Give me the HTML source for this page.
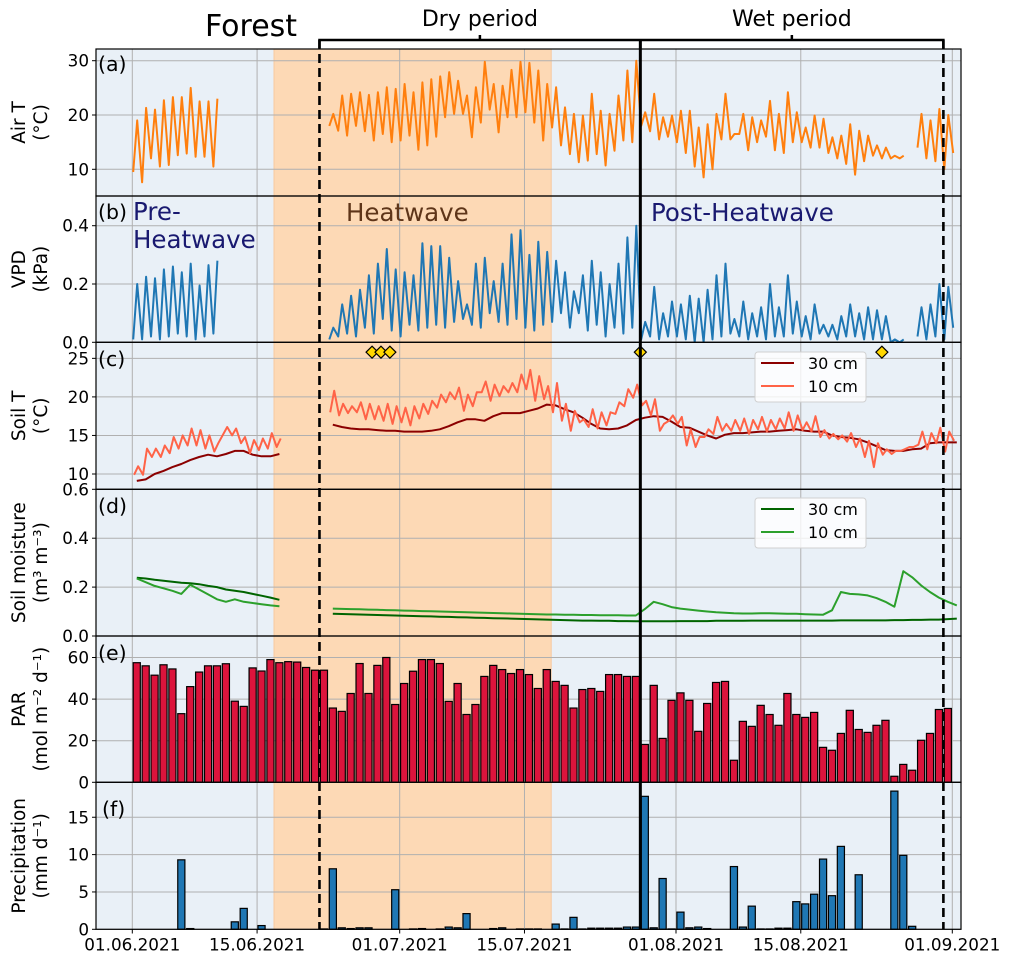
<!DOCTYPE html>
<html><head><meta charset="utf-8"><style>
html,body{margin:0;padding:0;background:#fff;}
svg{display:block;font-family:"DejaVu Sans","Liberation Sans",sans-serif;}
</style></head><body>
<svg id="chart" width="1010" height="962" viewBox="0 0 1010 962" xmlns="http://www.w3.org/2000/svg"></svg>
<script>
const N=null;
// ---- data (day index 0 = 01.06.2021) ----
const xTickDays=[0,14,30,44,61,75,92];
const xTickLabels=["01.06.2021","15.06.2021","01.07.2021","15.07.2021","01.08.2021","15.08.2021","01.09.2021"];
const heatStart=15.9, heatEnd=47, dryStart=21, wetStart=57, wetEnd=91;
const markerDays=[26.9,27.9,28.9,57,84.1];
const markerValue=25.8;
const airMax=[19,21.3,21,22.7,23.3,23.3,25,22.5,22.5,23,N,N,N,N,N,N,N,N,N,N,N,N,
20.2,23.6,23.9,24.2,23.7,24.2,25.1,24.8,25.7,24.2,26,26.6,27.1,27.9,26.3,23.6,25.1,29.8,25.7,25.4,28.3,29.8,29.6,28.2,25.7,25.1,21.4,20.2,19.9,23.9,20.8,20.2,23.6,28.2,30,
20.5,23.9,19.6,19.9,20.8,20.8,17.7,18.3,20.2,23.9,16.5,20.2,19.6,19,22.6,20.2,24.2,20.5,17.7,19.9,19.3,15.9,16.2,18.3,17.1,16.2,14.4,14,12.5,12.5,N,
20.2,19,21.1,20,N];
const airMin=[9.5,7.6,12,10.5,10.8,12.6,12.9,12.3,12.3,10.5,N,N,N,N,N,N,N,N,N,N,N,N,
18,17.1,16.2,18,17,15.3,16.5,15,15.3,16.2,13.6,14.4,16,19.6,20.2,20.2,15.9,18.6,21,16.8,19.6,19.6,20.5,18.6,15.3,17.7,14.4,12.8,11.3,11.6,12.8,10.7,13.4,15.3,15,
18,17,15.5,16,15,13,10.5,8.5,10,15.5,15.5,16.5,13.5,15,16,13.5,13,15,15,14,14,13,12,11,9,11.5,12.5,12,12,12,N,
14,12,11.5,10,13];
const vpdMax=[0.2,0.225,0.22,0.25,0.26,0.24,0.27,0.195,0.265,0.28,N,N,N,N,N,N,N,N,N,N,N,N,
0.05,0.13,0.16,0.18,0.23,0.27,0.32,0.25,0.24,0.23,0.34,0.33,0.33,0.29,0.21,0.13,0.27,0.29,0.21,0.27,0.37,0.385,0.30,0.345,0.31,0.28,0.24,0.175,0.23,0.28,0.24,0.20,0.27,0.36,0.40,
0.07,0.19,0.1,0.14,0.13,0.16,0.15,0.18,0.23,0.27,0.08,0.14,0.1,0.12,0.2,0.12,0.23,0.14,0.09,0.13,0.06,0.06,0.09,0.13,0.1,0.12,0.11,0.09,0.01,0.01,N,
0.12,0.13,0.2,0.19,N];
const vpdMin=[0.01,0.01,0.02,0.01,0.02,0.03,0.02,0.01,0.02,0.03,N,N,N,N,N,N,N,N,N,N,N,N,
0.01,0.02,0.03,0.02,0.05,0.03,0.08,0.04,0.02,0.06,0.04,0.05,0.06,0.05,0.07,0.08,0.06,0.05,0.1,0.07,0.06,0.08,0.05,0.04,0.06,0.07,0.1,0.05,0.1,0.04,0.06,0.02,0.05,0.03,0.05,
0.01,0.02,0.01,0.02,0.02,0.01,0,0,0.01,0.02,0.03,0.02,0.01,0.02,0.01,0.02,0.02,0.03,0.02,0.01,0.03,0.02,0.01,0.02,0.02,0.01,0.01,0.01,0,0,N,
0.02,0.01,0.02,0.01,0.05];
const soilT10Max=[11,13.3,13.3,13.7,14.8,15,15.9,15.7,15,14,16.1,15.9,14.8,14.4,14.6,15.3,14.6,N,N,N,N,N,
20.8,19.1,18.8,19.3,19.1,18.8,19.1,18.8,18.6,18.8,19.1,19.5,20.3,20.6,21.2,20.3,20.6,22,21.6,21.4,21.8,22.9,23.5,22.7,21.4,21.8,19.1,18.2,17.1,18.4,18,18,19.3,21,21.6,
19.5,19.7,16.5,17.6,17.4,15.8,14.8,15.8,17.4,16.5,17,17.2,17,17.4,17,17.2,18,17.6,16.7,17.5,15.7,15.2,15,15.3,14.6,14.3,14,13.2,13,13.2,13.5,15.5,15.3,16,15.5,N];
const soilT10Min=[9.9,9.9,12.2,12.2,12.7,13.3,13.7,13.7,13.3,12.9,N,15,14,12.7,13.1,13.3,13.5,N,N,N,N,N,
18,17.6,17.9,18,17.1,17.1,16.9,16.5,16.7,16.3,17.2,17.8,18.6,19.3,19.7,18.2,18.8,20.6,19.5,20.1,20.6,20.6,21,19.5,19.7,18,16.9,15.6,16.7,16.1,15.9,16.3,17.8,18.8,19.9,
18.9,17.6,15.6,16.9,16.5,13.7,13.5,14.8,15.2,15.6,15.6,15.6,15.2,15.8,15.5,15.8,15.9,15.6,15.7,15.5,14.8,14.6,14.5,14.2,13.5,12.2,10.9,12.5,12.6,13,13.5,13.8,13.2,14,12.9,14.3];
const soilT30=[9.1,9.3,10,10.4,10.9,11.3,11.8,12.2,12.5,12.3,12.6,13,13,12.5,12.3,12.3,12.6,N,N,N,N,N,
16.4,16.1,15.9,15.8,15.8,15.7,15.6,15.6,15.5,15.5,15.5,15.6,15.8,16.2,16.7,17.1,17.1,16.9,17.5,17.9,17.9,17.9,18.2,18.5,19,18.9,18.4,18,17.3,16.5,15.9,15.8,15.9,16.3,17,
17.3,17.5,17.4,16.8,16.1,16,15.5,15,14.6,15.1,15.3,15.3,15.4,15.5,15.5,15.6,15.7,15.8,15.6,15.5,15.5,15,14.8,14.7,14.5,14.1,13.6,13.1,13,13,13.2,13.3,14,14.1,14.1,14.1];
const sm10=[0.235,0.22,0.205,0.195,0.185,0.172,0.21,0.19,0.17,0.15,0.14,0.15,0.14,0.135,0.13,0.125,0.122,N,N,N,N,N,
0.112,0.111,0.110,0.109,0.108,0.107,0.106,0.105,0.104,0.103,0.102,0.101,0.100,0.099,0.098,0.097,0.096,0.095,0.094,0.093,0.092,0.091,0.090,0.089,0.088,0.088,0.087,0.087,0.086,0.086,0.085,0.085,0.085,0.084,0.084,
0.11,0.14,0.13,0.118,0.112,0.108,0.104,0.1,0.097,0.095,0.093,0.092,0.092,0.093,0.093,0.092,0.091,0.091,0.089,0.088,0.087,0.105,0.18,0.172,0.17,0.166,0.155,0.14,0.12,0.265,0.24,0.207,0.18,0.157,0.14,0.125];
const sm30=[0.238,0.235,0.23,0.226,0.222,0.218,0.216,0.212,0.205,0.2,0.19,0.185,0.18,0.172,0.165,0.157,0.148,N,N,N,N,N,
0.091,0.090,0.089,0.088,0.087,0.086,0.085,0.084,0.083,0.082,0.081,0.080,0.079,0.078,0.077,0.076,0.075,0.074,0.073,0.072,0.071,0.070,0.069,0.068,0.067,0.066,0.065,0.064,0.063,0.063,0.062,0.062,0.061,0.061,0.060,
0.060,0.060,0.060,0.060,0.061,0.061,0.061,0.061,0.062,0.062,0.062,0.062,0.063,0.063,0.063,0.063,0.063,0.063,0.063,0.063,0.063,0.063,0.064,0.064,0.064,0.064,0.064,0.064,0.065,0.065,0.066,0.066,0.067,0.067,0.069,0.071];
const parValues=[57.5,56,51.5,56.5,54.5,33,46,53,56,56,57,39,36.5,55,53.5,59,57.5,58,57.8,55.2,53.9,53.9,35.7,34.1,42.7,57.1,42.7,56.2,60,37.4,47.5,53.4,59,59,57.1,38.9,47.5,32.6,37.4,50.9,56.2,54.2,52.3,54.2,51.8,45.1,54.2,48.5,46.6,35.7,44.6,45.1,43.7,51.8,51.8,50.9,50.9,
18.2,46.6,21.1,39.4,43,39.4,24.5,37.9,48,48.5,10.6,29.3,26.9,37,32.6,27.4,42.7,32.6,31.2,33.6,16.8,15.4,23.5,34.6,25.4,24,27.4,29.8,2.9,8.6,5.8,20.2,23.5,35,35.5];
const precipValues=[0,0,0,0,0,9.3,0.1,0,0,0,0,1.0,2.8,0,0.5,0,0,0,0,0,0,0.05,8.1,0.2,0.1,0.2,0.2,0,0,5.3,0,0.05,0.1,0,0.05,0.3,0.2,2.1,0,0,0.1,0.2,0,0.05,0.05,0.05,0,0.7,0.05,1.6,0.05,0.15,0.15,0.15,0.15,0.3,0.3,
17.8,0.2,6.8,0.05,2.3,0.2,0.3,0.1,0,0,8.4,0.3,3.1,0.05,0.05,0.15,0.15,3.7,3.4,4.7,9.4,4.5,11.1,0,7.3,0,0,0,18.5,9.9,0.4,0,0,0,0];

// ---- scales ----
const X=d=>132.3+8.913*d;
const L=96,R=961;
const panels=[
 {id:'a',top:49,bot:196,y:v=>169.3-(v-10)*5.43,ticks:[10,20,30],lab:['10','20','30'],yl:['Air T','(°C)']},
 {id:'b',top:196,bot:342.3,y:v=>342.3-v*291.5,ticks:[0,0.2,0.4],lab:['0.0','0.2','0.4'],yl:['VPD','(kPa)']},
 {id:'c',top:342.3,bot:489.3,y:v=>474-(v-10)*7.71,ticks:[10,15,20,25],lab:['10','15','20','25'],yl:['Soil T','(°C)']},
 {id:'d',top:489.3,bot:636,y:v=>636-v*244.5,ticks:[0,0.2,0.4,0.6],lab:['0.0','0.2','0.4','0.6'],yl:['Soil moisture','(m³ m⁻³)']},
 {id:'e',top:636,bot:782.3,y:v=>782.3-v*2.08,ticks:[0,20,40,60],lab:['0','20','40','60'],yl:['PAR','(mol m⁻² d⁻¹)']},
 {id:'f',top:782.3,bot:929.3,y:v=>929.3-v*7.47,ticks:[0,5,10,15],lab:['0','5','10','15'],yl:['Precipitation','(mm d⁻¹)']}
];
const svg=document.getElementById('chart');
const NS='http://www.w3.org/2000/svg';
function mk(tag,attrs,parent){const e=document.createElementNS(NS,tag);for(const k in attrs)e.setAttribute(k,attrs[k]);(parent||svg).appendChild(e);return e;}
function txt(s,attrs,parent){const e=mk('text',attrs,parent);e.textContent=s;return e;}

function minMaxPts(mn,mx,tMin,tMax){const segs=[];let cur=[];for(let d=0;d<Math.max(mn.length,mx.length);d++){const a=mn[d],b=mx[d];if(a==null&&b==null){if(cur.length)segs.push(cur);cur=[];continue;}if(a!=null)cur.push([d+tMin,a]);if(b!=null)cur.push([d+tMax,b]);}if(cur.length)segs.push(cur);return segs;}
function dailyPts(arr,t){const segs=[];let cur=[];arr.forEach((v,d)=>{if(v==null){if(cur.length)segs.push(cur);cur=[];}else cur.push([d+t,v]);});if(cur.length)segs.push(cur);return segs;}
function drawSegs(segs,p,color,w,g,name){const dstr=segs.map(s=>'M'+s.map(q=>X(q[0]).toFixed(1)+','+p.y(q[1]).toFixed(1)).join('L')).join('');const e=mk('path',{d:dstr,fill:'none',stroke:color,'stroke-width':w,'stroke-linejoin':'round'},g);return e;}

panels.forEach(p=>{
 const g=mk('g',{});
 
 
 const h=p.bot-p.top;
 const bg=mk('rect',{x:L,y:p.top,width:R-L,height:h,fill:'#e9f0f7'},g);
 
 const hb=mk('rect',{x:X(heatStart),y:p.top,width:X(heatEnd)-X(heatStart),height:h,fill:'#fdd9b5',stroke:'#f7c9a0','stroke-width':1},g);
 
 xTickDays.forEach(d=>{const l=mk('line',{x1:X(d),x2:X(d),y1:p.top,y2:p.bot,stroke:'#b0b0b0','stroke-width':1},g);});
 p.ticks.forEach((t,i)=>{const yy=p.y(t);
  const l=mk('line',{x1:L,x2:R,y1:yy,y2:yy,stroke:'#b0b0b0','stroke-width':1},g);
  const tk=mk('line',{x1:L-4,x2:L,y1:yy,y2:yy,stroke:'#000','stroke-width':1},g);
  const tl=txt(p.lab[i],{x:L-7,y:yy+6,'text-anchor':'end','font-size':16.8},g);});
 p.g=g;
 const cy=(p.top+p.bot)/2;
 const t1=txt(p.yl[0],{x:0,y:0,'text-anchor':'middle','font-size':18.5,transform:`translate(25,${cy}) rotate(-90)`},g);
 
 const t2=txt(p.yl[1],{x:0,y:0,'text-anchor':'middle','font-size':18.5,transform:`translate(47,${cy}) rotate(-90)`},g);
 
});
const [pa,pb,pc,pd,pe,pf]=panels;
drawSegs(minMaxPts(airMin,airMax,0.1,0.55),pa,'#ff7f0e',2,pa.g,'air-temperature-line');
drawSegs(minMaxPts(vpdMin,vpdMax,0.1,0.55),pb,'#1f77b4',2,pb.g,'vpd-line');
drawSegs(dailyPts(soilT30,0.5),pc,'#8b0000',2,pc.g,'soil-temp-30cm-line');
drawSegs(minMaxPts(soilT10Min,soilT10Max,0.2,0.65),pc,'#ff6347',2,pc.g,'soil-temp-10cm-line');
drawSegs(dailyPts(sm30,0.5),pd,'#006400',2,pd.g,'soil-moisture-30cm-line');
drawSegs(dailyPts(sm10,0.5),pd,'#2ca02c',2,pd.g,'soil-moisture-10cm-line');
parValues.forEach((v,d)=>{const b=mk('rect',{x:X(d+0.1),y:pe.y(v),width:X(0.8)-X(0),height:pe.y(0)-pe.y(v),fill:'#dc143c',stroke:'#000','stroke-width':1.2},pe.g);});
precipValues.forEach((v,d)=>{const b=mk('rect',{x:X(d+0.1),y:pf.y(v),width:X(0.8)-X(0),height:pf.y(0)-pf.y(v),fill:'#1f77b4',stroke:'#000','stroke-width':1.2},pf.g);});
markerDays.forEach(d=>{const cx=X(d),cyy=pc.y(markerValue);const m=mk('polygon',{points:`${cx},${cyy-6} ${cx+6},${cyy} ${cx},${cyy+6} ${cx-6},${cyy}`,fill:'#ffd700',stroke:'#000','stroke-width':1.2},pc.g);});
function legend(p,y0,c30,c10,name){const g=mk('g',{},p.g);
 mk('rect',{x:755,y:y0,width:111,height:50,rx:3,fill:'#fff','fill-opacity':0.8,stroke:'#d0d0d0'},g);
 mk('line',{x1:761,x2:794,y1:y0+11,y2:y0+11,stroke:c30,'stroke-width':2},g);
 mk('line',{x1:761,x2:794,y1:y0+34,y2:y0+34,stroke:c10,'stroke-width':2},g);
 const a=txt('30 cm',{x:808,y:y0+17,'font-size':16},g);
 const b=txt('10 cm',{x:808,y:y0+40,'font-size':16},g);}
legend(pc,352,'#8b0000','#ff6347','soil-temp-legend');
legend(pd,498,'#006400','#2ca02c','soil-moisture-legend');
const plabY=[71,219,366,513,660,816];
panels.forEach((p,i)=>{const f=mk('rect',{x:L,y:p.top,width:R-L,height:p.bot-p.top,fill:'none',stroke:'#000','stroke-width':1.2});
 const t=txt('('+p.id+')',{x:i==5?102:98,y:plabY[i],'font-size':20.5});});
xTickDays.forEach((d,i)=>{const tk=mk('line',{x1:X(d),x2:X(d),y1:929.3,y2:933.5,stroke:'#000','stroke-width':1});
 const t=txt(xTickLabels[i],{x:X(d),y:950.5,'text-anchor':'middle','font-size':16.8});});
[dryStart,wetEnd].forEach(d=>{const l=mk('line',{x1:X(d),x2:X(d),y1:40,y2:929,stroke:'#000','stroke-width':2.6,'stroke-dasharray':'9,5'});});
const sl=mk('line',{x1:X(wetStart),x2:X(wetStart),y1:40,y2:929,stroke:'#000','stroke-width':3});
const br=mk('path',{d:`M${X(dryStart)},48V40H${X(wetEnd)}V48M${X(wetStart)},40V48M${(X(dryStart)+X(wetStart))/2},40V35M${(X(wetStart)+X(wetEnd))/2},40V35`,fill:'none',stroke:'#000','stroke-width':2.5});

const dp=txt('Dry period',{x:(X(dryStart)+X(wetStart))/2,y:26,'text-anchor':'middle','font-size':22});
const wp=txt('Wet period',{x:(X(wetStart)+X(wetEnd))/2,y:26,'text-anchor':'middle','font-size':22});
const ft=txt('Forest',{x:205,y:36,'font-size':30});
const a1=txt('Pre-',{x:133,y:220,'font-size':24.5,fill:'#191970'});
const a2=txt('Heatwave',{x:133,y:248,'font-size':24.5,fill:'#191970'});
const a3=txt('Heatwave',{x:346,y:221,'font-size':24.5,fill:'#5e3519'});
const a4=txt('Post-Heatwave',{x:651,y:221,'font-size':24.5,fill:'#191970'});
</script>
</body></html>
